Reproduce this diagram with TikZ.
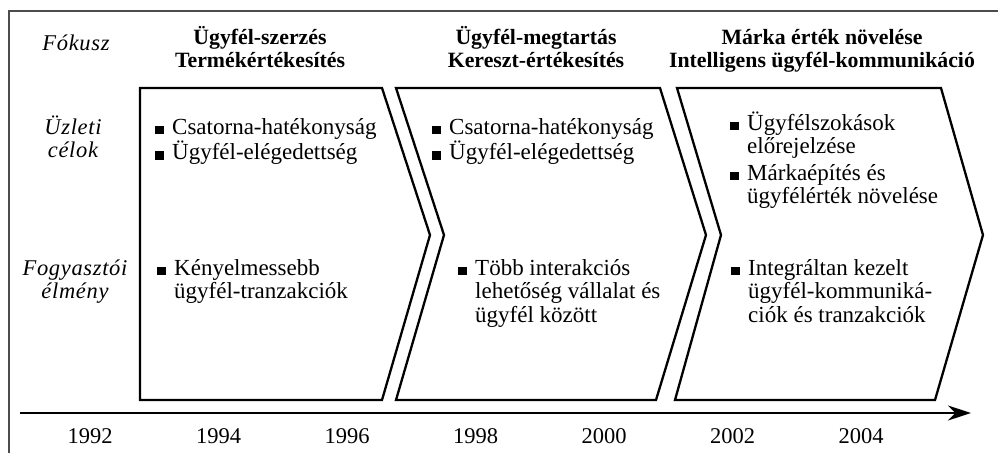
\documentclass[tikz,border=0pt]{standalone}
\usepackage{fontspec}
\setmainfont{Liberation Serif}
\newfontfamily\lblfont[LetterSpace=3]{Liberation Serif}
\usetikzlibrary{arrows.meta}
\newcommand{\sqb}{\rule{8.5pt}{8.5pt}}

\begin{document}
\begin{tikzpicture}[x=1pt,y=-1pt]
\tikzstyle{chev}=[line width=2.3pt,line join=miter]
\tikzstyle{rowlbl}=[font=\lblfont\itshape\fontsize{22.5}{23}\selectfont,inner sep=0pt,anchor=base]
\tikzstyle{head}=[font=\bfseries\fontsize{21.8}{23}\selectfont,inner sep=0pt,anchor=base]
\tikzstyle{items}=[font=\fontsize{23}{23.5}\selectfont,inner sep=0pt,anchor=base west]
\tikzstyle{year}=[font=\fontsize{22.5}{24}\selectfont,inner sep=0pt,anchor=base]
\useasboundingbox (0,0) rectangle (998,453);
% frame
\draw[gray!60!black,line width=1.3pt] (998,11) -- (9,11) -- (9,453);
% phases
\draw[chev] (140,88) -- (382,88) -- (430,235) -- (382,400) -- (140,400) -- cycle;
\draw[chev] (396,88) -- (660,88) -- (706,235) -- (656,400) -- (396,400) -- (444,235) -- cycle;
\draw[chev] (677,88) -- (941,88) -- (983,235) -- (935,400) -- (675,400) -- (721,235) -- cycle;
% row labels
\node[rowlbl] (fokusz) at (76,50) {F\'okusz};
\node[rowlbl] (celok) at (73,134) {\begin{tabular}[t]{@{}c@{}}\"Uzleti\\c\'elok\end{tabular}};
\node[rowlbl] (elmeny) at (75,275) {\begin{tabular}[t]{@{}c@{}}Fogyaszt\'oi\\\'elm\'eny\end{tabular}};
% focus headings
\node[head] (focus1) at (260,44) {\begin{tabular}[t]{@{}c@{}}Ügyfél-szerzés\\Termékértékesítés\end{tabular}};
\node[head] (focus2) at (536,44) {\begin{tabular}[t]{@{}c@{}}Ügyfél-megtartás\\Kereszt-értékesítés\end{tabular}};
\node[head] (focus3) at (822,44) {\begin{tabular}[t]{@{}c@{}}Márka érték növelése\\Intelligens ügyfél-kommunikáció\end{tabular}};
% business goals
\node[items] (goals1) at (155,134) {\begin{tabular}[t]{@{}l@{\hspace{8.5pt}}l@{}}\sqb & Csatorna-hatékonyság\\\sqb & Ügyfél-elégedettség\end{tabular}};
\node[items] (goals2) at (432,134) {\begin{tabular}[t]{@{}l@{\hspace{8.5pt}}l@{}}\sqb & Csatorna-hatékonyság\\\sqb & Ügyfél-elégedettség\end{tabular}};
\node[items] (goals3) at (730,130) {\begin{tabular}[t]{@{}l@{\hspace{8.5pt}}l@{}}\sqb & Ügyfélszokások\\ & előrejelzése\\[3pt]\sqb & Márkaépítés és\\ & ügyfélérték növelése\end{tabular}};
% customer experience
\node[items] (exp1) at (157,275) {\begin{tabular}[t]{@{}l@{\hspace{8.5pt}}l@{}}\sqb & Kényelmessebb\\ & ügyfél-tranzakciók\end{tabular}};
\node[items] (exp2) at (458,275) {\begin{tabular}[t]{@{}l@{\hspace{8.5pt}}l@{}}\sqb & Több interakciós\\ & lehetőség vállalat és\\ & ügyfél között\end{tabular}};
\node[items] (exp3) at (731,275) {\begin{tabular}[t]{@{}l@{\hspace{8.5pt}}l@{}}\sqb & Integráltan kezelt\\ & ügyfél-kommuniká-\\ & ciók és tranzakciók\end{tabular}};
% time axis
\coordinate (axstart) at (20,413);
\coordinate (axend) at (971,413);
\draw[line width=2pt,-{Stealth[length=23pt,width=15pt]}] (axstart) -- (axend);
\foreach \yr [count=\i from 0] in {1992,1994,...,2004}
  \node[year] (y\yr) at (90+128.5*\i,443) {\yr};
\end{tikzpicture}
\end{document}
